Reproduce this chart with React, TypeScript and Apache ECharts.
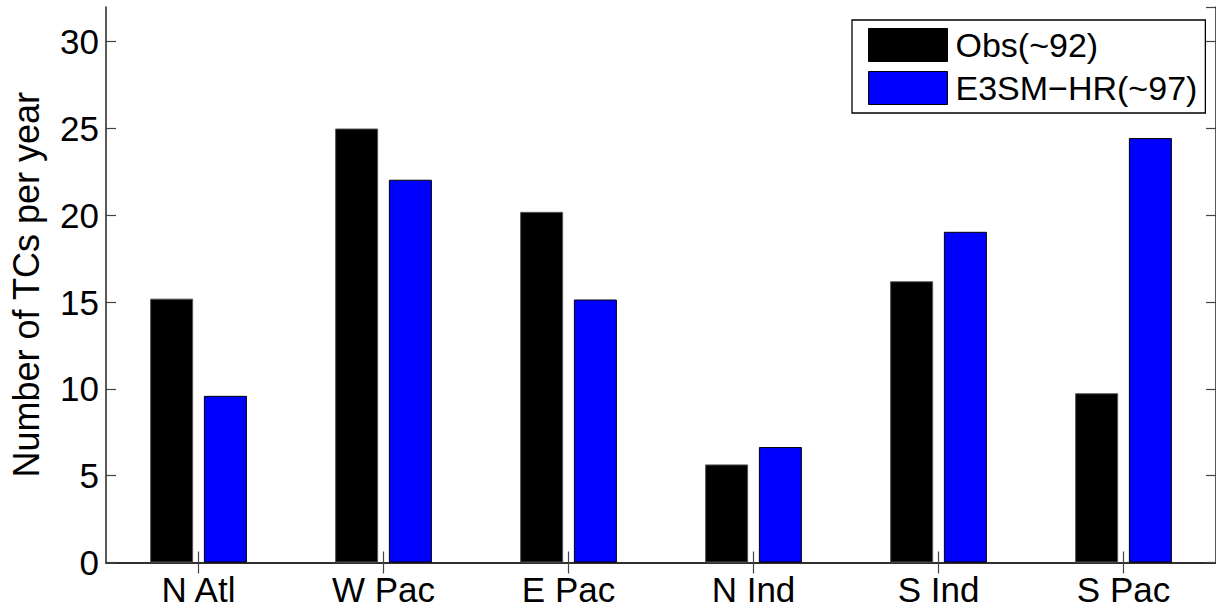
import React, { useEffect, useRef } from "react";
import * as echarts from "echarts";

const categories = ["N Atl", "W Pac", "E Pac", "N Ind", "S Ind", "S Pac"];
const obsValues = [15.2, 25.0, 20.2, 5.65, 16.2, 9.75];
const e3smValues = [9.6, 22.05, 15.15, 6.65, 19.05, 24.45];
const seriesNames = ["Obs(~92)", "E3SM\u2212HR(~97)"];
const yTicks = { min: 0, max: 32, interval: 5 };
const yName = "Number of TCs per year";

const FONT = "'Liberation Sans', Arial, Helvetica, sans-serif";
const AX = "#222";
const TICK = "#444";

export default function App() {
  const ref = useRef<HTMLDivElement>(null);
  useEffect(() => {
    if (!ref.current) return;
    const chart = echarts.init(ref.current, null, { renderer: "svg" });
    const catAxisBase = {
      type: "category" as const,
      data: categories,
      boundaryGap: true,
      axisLine: { show: true, lineStyle: { color: AX, width: 1.5 } },
      axisTick: { show: true, inside: true, alignWithLabel: true, length: 11, lineStyle: { color: TICK, width: 1.2 } },
      splitLine: { show: false },
    };
    const valAxisBase = {
      type: "value" as const,
      min: yTicks.min,
      max: yTicks.max,
      interval: yTicks.interval,
      axisLine: { show: true, lineStyle: { color: AX, width: 1.5 } },
      axisTick: { show: true, inside: true, length: 10, lineStyle: { color: TICK, width: 1.2 } },
      splitLine: { show: false },
    };
    chart.setOption({
      animation: false,
      backgroundColor: "#fff",
      textStyle: { fontFamily: FONT },
      grid: { left: 104, right: -2, top: 7, bottom: 43, containLabel: false },
      legend: {
        orient: "vertical",
        left: 852,
        top: 20,
        padding: [8, 8, 8, 16],
        itemWidth: 79,
        itemHeight: 33,
        itemGap: 9,
        icon: "rect",
        borderColor: "#000",
        borderWidth: 1.3,
        backgroundColor: "#fff",
        itemStyle: { borderColor: "#000", borderWidth: 1 },
        textStyle: { fontSize: 34, color: "#000", fontFamily: FONT, lineHeight: 33, padding: [0, 0, 0, 3] },
        data: seriesNames,
      },
      xAxis: [
        {
          ...catAxisBase,
          position: "bottom",
          axisLabel: { show: true, fontSize: 35, lineHeight: 28, color: "#000", fontFamily: FONT, margin: 13 },
        },
        {
          ...catAxisBase,
          position: "top",
          axisLabel: { show: false },
        },
      ],
      yAxis: [
        {
          ...valAxisBase,
          position: "left",
          name: yName,
          nameLocation: "middle",
          nameGap: 62,
          nameRotate: 90,
          nameTextStyle: { fontSize: 36, color: "#000", fontFamily: FONT },
          axisLabel: { show: true, fontSize: 35, color: "#000", fontFamily: FONT, margin: 7, showMaxLabel: false },
        },
        {
          ...valAxisBase,
          position: "right",
          axisLabel: { show: false },
        },
      ],
      series: [
        {
          name: seriesNames[0],
          type: "bar",
          data: obsValues,
          barWidth: 43,
          barGap: "25%",
          itemStyle: { color: "#000", borderColor: "#555", borderWidth: 1 },
          z: 1,
        },
        {
          name: seriesNames[1],
          type: "bar",
          data: e3smValues,
          barWidth: 43,
          barGap: "25%",
          itemStyle: { color: "#0000ff", borderColor: "#000", borderWidth: 1 },
          z: 1,
        },
      ],
    });
    return () => chart.dispose();
  }, []);
  return (
    <div
      ref={ref}
      style={{ position: "absolute", left: 0, top: 0, width: 1216, height: 607 }}
    />
  );
}
